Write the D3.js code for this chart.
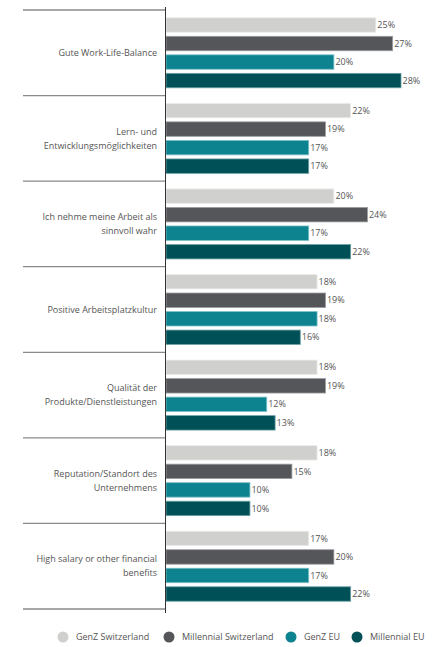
<!DOCTYPE html>
<html><head><meta charset="utf-8">
<script src="https://cdn.jsdelivr.net/npm/d3@7"></script>
<style>body{margin:0;background:#fff}svg{display:block}text{font-family:"Open Sans",sans-serif}</style>
</head><body>
<svg id="chart" width="441" height="647"></svg>
<script>
const categories = [
  ["Gute Work-Life-Balance"],
  ["Lern- und", "Entwicklungsmöglichkeiten"],
  ["Ich nehme meine Arbeit als", "sinnvoll wahr"],
  ["Positive Arbeitsplatzkultur"],
  ["Qualität der", "Produkte/Dienstleistungen"],
  ["Reputation/Standort des", "Unternehmens"],
  ["High salary or other financial", "benefits"]
];
const seriesNames = ["GenZ Switzerland", "Millennial Switzerland", "GenZ EU", "Millennial EU"];
const genzCH = [25, 22, 20, 18, 18, 18, 17];
const millCH = [27, 19, 24, 19, 19, 15, 20];
const genzEU = [20, 17, 17, 18, 12, 10, 17];
const millEU = [28, 17, 22, 16, 13, 10, 22];
const colors = ["#d0d0ce", "#54565a", "#0e8390", "#005057"];
const strokes = ["#ececea", "#9a9c9f", "#7cc1c8", "#6fa3a7"];

const series = [genzCH, millCH, genzEU, millEU];
const svg = d3.select("#chart");
const x = d3.scaleLinear().domain([0, 32]).range([166, 434.6]);
const y = d3.scaleBand().domain(d3.range(categories.length)).range([10, 609]);
const inner = d3.scaleBand().domain(d3.range(4)).range([0, y.bandwidth()]).paddingOuter(0.42).paddingInner(0.22);

// separators
svg.append("g").selectAll("line").data(d3.range(categories.length + 1)).join("line")
  .attr("x1", 23).attr("x2", 165)
  .attr("y1", i => i < categories.length ? y(i) : y.range()[1])
  .attr("y2", i => i < categories.length ? y(i) : y.range()[1])
  .attr("stroke", "#8a8a8a").attr("stroke-width", 1.3);

const g = svg.append("g");
categories.forEach((c, ci) => {
  series.forEach((s, si) => {
    const yy = y(ci) + inner(si);
    g.append("rect").attr("x", x(0)).attr("y", yy)
      .attr("width", x(s[ci]) - x(0)).attr("height", inner.bandwidth())
      .attr("fill", colors[si]).attr("stroke", strokes[si]).attr("stroke-width", 0.8);
    g.append("text").attr("x", x(s[ci]) + 1.5).attr("y", yy + inner.bandwidth() / 2)
      .attr("dy", "0.35em").attr("font-size", 9).attr("fill", "#555")
      .text(s[ci] + "%");
  });
  const cy = y(ci) + y.bandwidth() / 2;
  const lh = 14;
  const t = svg.append("text").attr("text-anchor", "end").attr("font-size", 9).attr("fill", "#555");
  c.forEach((line, li) => {
    t.append("tspan").attr("x", 157)
      .attr("y", cy + (li - (c.length - 1) / 2) * lh).attr("dy", "0.35em").text(line);
  });
});

// axis line
svg.append("line").attr("x1", 165.5).attr("x2", 165.5).attr("y1", 7).attr("y2", 613)
  .attr("stroke", "#333").attr("stroke-width", 1);

// legend
const legX = [63, 169, 291, 357];
const lg = svg.append("g");
seriesNames.forEach((n, i) => {
  lg.append("circle").attr("cx", legX[i]).attr("cy", 637).attr("r", 5.5).attr("fill", colors[i]);
  lg.append("text").attr("x", legX[i] + 13).attr("y", 637).attr("dy", "0.35em")
    .attr("font-size", 9).attr("fill", "#555").text(n);
});
</script>
</body></html>
